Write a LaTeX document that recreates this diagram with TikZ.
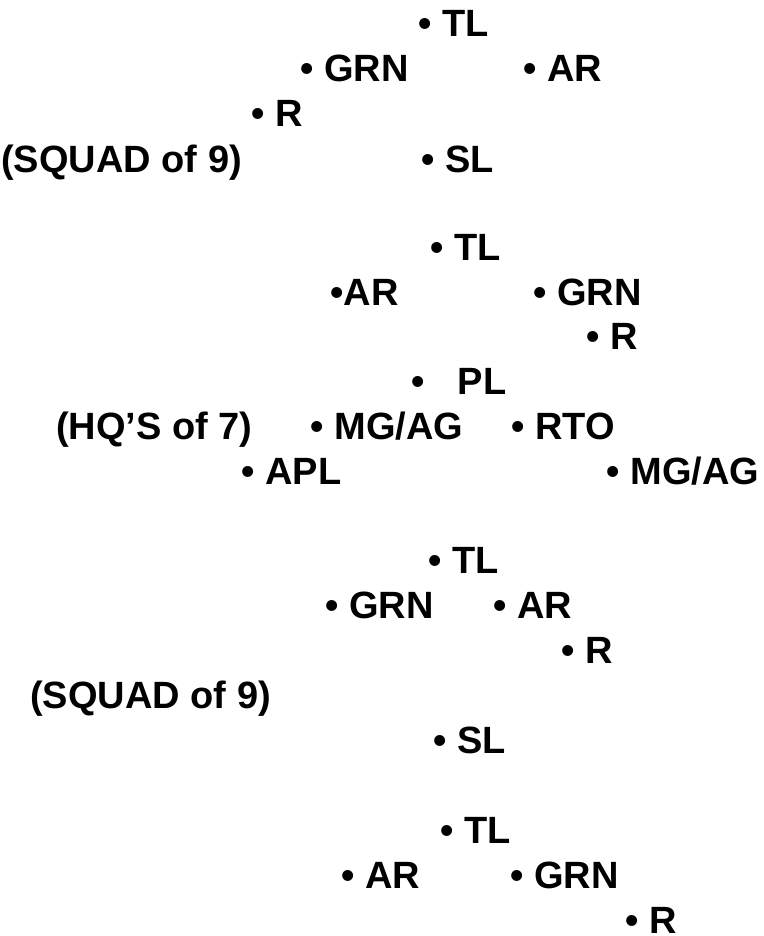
\documentclass[tikz,border=0pt]{standalone}
\usepackage{fontspec}
\setmainfont{Liberation Sans}
\tikzset{
        billet/.style={anchor=base west, inner sep=0pt, font=\bfseries\fontsize{38}{40}\selectfont},
        unitname/.style={billet}
          }
\begin{document}
\begin{tikzpicture}[x=1pt, y=-1pt]
            \useasboundingbox (0,0) rectangle (763,936);
            \node[billet] (tlA) at (418.4,37) {• TL};
            \node[billet] (grnA) at (300.4,82) {• GRN};
            \node[billet] (arA) at (523.4,82) {• AR};
            \node[billet] (rA) at (251.4,127) {• R};
            \node[unitname] (squadA) at (1,172) {(SQUAD of 9)};
            \node[billet] (slA) at (421.4,172) {• SL};

            \node[billet] (tlB) at (430.4,260) {• TL};
            \node[billet] (arB) at (330.4,305) {•AR};
            \node[billet] (grnB) at (533.4,305) {• GRN};
            \node[billet] (rB) at (586.4,349) {• R};
            \node[billet] (pl) at (411.4,394) {•\hspace*{33pt}PL};
            \node[unitname] (hq) at (56,439) {(HQ’S of 7)};
            \node[billet] (mgagA) at (310.4,439) {• MG/AG};
            \node[billet] (rto) at (511.4,439) {• RTO};
            \node[billet] (apl) at (241.4,484) {• APL};
            \node[billet] (mgagB) at (606.4,484) {• MG/AG};

            \node[billet] (tlC) at (428.4,573) {• TL};
            \node[billet] (grnC) at (325.4,618) {• GRN};
            \node[billet] (arC) at (493.4,618) {• AR};
            \node[billet] (rC) at (561.4,663) {• R};
            \node[unitname] (squadC) at (30,708) {(SQUAD of 9)};
            \node[billet] (slC) at (433.4,753) {• SL};

            \node[billet] (tlD) at (440.4,843) {• TL};
            \node[billet] (arD) at (341.4,888) {• AR};
            \node[billet] (grnD) at (510.4,888) {• GRN};
            \node[billet] (rD) at (625.4,933) {• R};
          \end{tikzpicture}
\end{document}
